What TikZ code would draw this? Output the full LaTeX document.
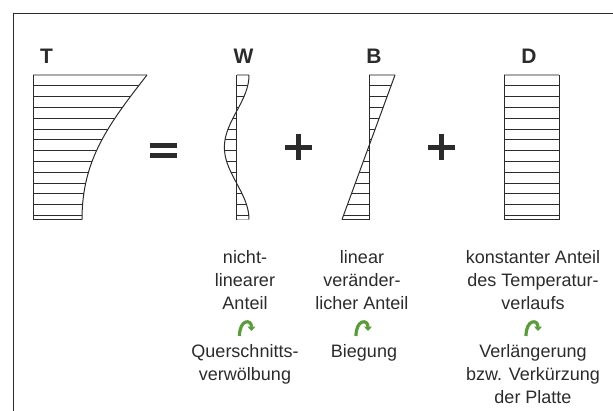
\documentclass[tikz,border=0pt]{standalone}
\usepackage{fontspec}
\setmainfont{Liberation Sans}
\usetikzlibrary{arrows.meta}
\definecolor{ink}{HTML}{2B2B2B}
\definecolor{leaf}{HTML}{5C9B3C}

\begin{document}
\begin{tikzpicture}[x=1pt,y=-1pt,
  hatch/.style={draw=ink, line width=0.9pt},
  edge/.style={draw=ink, line width=1pt},
  capline/.style={draw=gray!65, line width=2.2pt},
  lbl/.style={font=\fontsize{21}{21}\selectfont\bfseries, anchor=base, inner sep=0, text=ink},
  txt/.style={font=\fontsize{18}{18}\selectfont, anchor=base, inner sep=0, text=ink},
  bar/.style={fill=ink, draw=none},
  turnarrow/.style={draw=leaf, line width=3.2pt, -{Triangle[length=4.5pt,width=8pt]}}]

\useasboundingbox (0,0) rectangle (613,410);
\clip (0,0) rectangle (613,410);

% outer frame (runs off the right and bottom edges)
\draw[draw=ink, line width=1.3pt] (13.3,420) -- (13.3,13.3) -- (620,13.3);

% ---------- T : measured temperature profile ----------
\begin{scope}
  \clip (33,75) -- (147,75) .. controls (108,125) and (82,160) .. (82,219.5) -- (33,219.5) -- cycle;
  \foreach \k in {1,...,13} \draw[hatch] (30,75+10.8*\k) -- (150,75+10.8*\k);
\end{scope}
\draw[capline] (33,75) -- (147,75);
\draw[edge] (33,75) -- (33,219.5) -- (82,219.5);
\draw[edge] (147,75) .. controls (108,125) and (82,160) .. (82,219.5);

% ---------- W : non-linear part ----------
\begin{scope}
  \clip (236.7,75) -- plot[domain=0:1, samples=60] ({236.7+12.3*cos(360*\x)},{75+144.5*\x}) -- (236.7,219.5) -- cycle;
  \foreach \k in {1,...,13} \draw[hatch] (220,75+10.8*\k) -- (255,75+10.8*\k);
  \draw[hatch] (220,219.5) -- (255,219.5);
\end{scope}
\draw[capline] (236.7,75) -- (249,75);
\draw[edge] (236.7,75) -- (236.7,219.5);
\draw[edge] plot[domain=0:1, samples=60] ({236.7+12.3*cos(360*\x)},{75+144.5*\x});

% ---------- B : linear part ----------
\begin{scope}
  \clip (369.3,75) -- (395,75) -- (342,219.5) -- (369.3,219.5) -- cycle;
  \foreach \k in {1,...,13} \draw[hatch] (335,75+10.8*\k) -- (400,75+10.8*\k);
\end{scope}
\draw[capline] (369.3,75) -- (395,75);
\draw[edge] (369.3,75) -- (369.3,219.5) -- (342,219.5);
\draw[edge] (395,75) -- (342,219.5);

% ---------- D : constant part ----------
\foreach \k in {1,...,13} \draw[hatch] (504.3,75+10.8*\k) -- (559,75+10.8*\k);
\draw[capline] (504.3,75) -- (559,75);
\draw[edge] (504.3,75) -- (504.3,219.5) -- (559,219.5) -- (559,75);

% ---------- operators ----------
\fill[bar] (150,142.7) rectangle (176.7,147.6);
\fill[bar] (150,153.3) rectangle (176.7,158.2);
\fill[bar] (285,144.5) rectangle (311.5,149.5);
\fill[bar] (295.7,134) rectangle (300.7,160);
\fill[bar] (428,144.5) rectangle (454.5,149.5);
\fill[bar] (438.7,134) rectangle (443.7,160);

% ---------- headings ----------
\node[lbl] (hT) at (46.5,63) {T};
\node[lbl] (hW) at (243.5,63) {W};
\node[lbl] (hB) at (374,63) {B};
\node[lbl] (hD) at (529,63) {D};

% ---------- descriptions ----------
\node[txt] (a1) at (245,263) {nicht-};
\node[txt] (a2) at (245,286) {linearer};
\node[txt] (a3) at (245,309) {Anteil};
\node[txt] (b1) at (362,263) {linear};
\node[txt] (b2) at (362,286) {veränder-};
\node[txt] (b3) at (362,309) {licher Anteil};
\node[txt] (c1) at (533,263) {konstanter Anteil};
\node[txt] (c2) at (533,286) {des Temperatur-};
\node[txt] (c3) at (533,309) {verlaufs};

% ---------- green turn arrows ----------
\foreach \cx in {245.5,362,532}
  \draw[turnarrow] (\cx-6,336) .. controls (\cx-6,319) and (\cx+6,319) .. (\cx+6,331);

% ---------- consequences ----------
\node[txt] (q1) at (245,357) {Querschnitts-};
\node[txt] (q2) at (245,380) {verwölbung};
\node[txt] (r1) at (364,357) {Biegung};
\node[txt] (s1) at (533,357) {Verlängerung};
\node[txt] (s2) at (533,380) {bzw. Verkürzung};
\node[txt] (s3) at (533,403) {der Platte};
\end{tikzpicture}
\end{document}
